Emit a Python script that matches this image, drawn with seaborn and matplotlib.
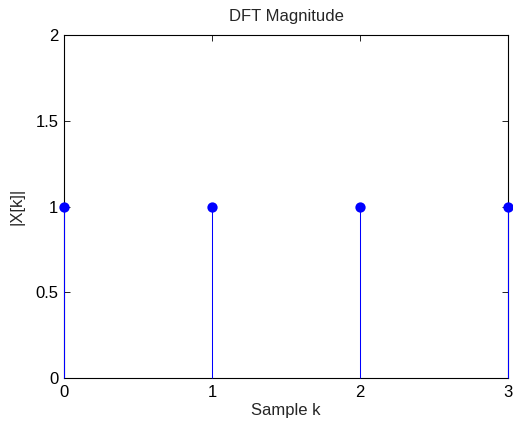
import matplotlib
matplotlib.use("Agg")
import matplotlib.pyplot as plt
import seaborn as sns
import pandas as pd

# DFT magnitude of a 4-point unit impulse
k = [0, 1, 2, 3]
magnitude = [1, 1, 1, 1]
x_ticks = [0, 1, 2, 3]
y_ticks = [0, 0.5, 1, 1.5, 2]

sns.set_style("ticks")
plt.rcParams["font.family"] = ["Liberation Sans", "DejaVu Sans"]

df = pd.DataFrame({"k": k, "mag": magnitude})

fig = plt.figure(figsize=(5.13, 4.26), dpi=100)
ax = fig.add_axes([64 / 513, 1 - 378 / 426, 444 / 513, 343 / 426])

ax.vlines(df["k"], 0, df["mag"], color="#0000ff", linewidth=0.75,
          zorder=4, clip_on=False)
sns.scatterplot(data=df, x="k", y="mag", ax=ax, color="#0000ff", s=55,
                edgecolor="#0000ff", linewidth=0, zorder=5, clip_on=False)

ax.set_xlim(0, 3)
ax.set_ylim(0, 2)
ax.set_xticks(x_ticks)
ax.set_xticklabels([str(v) for v in x_ticks])
ax.set_yticks(y_ticks)
ax.set_yticklabels(["0", "0.5", "1", "1.5", "2"])

for side in ["top", "right", "left", "bottom"]:
    ax.spines[side].set_visible(True)
    ax.spines[side].set_linewidth(0.8)
    ax.spines[side].set_color("black")
    ax.spines[side].set_zorder(3)

ax.tick_params(direction="in", length=4, width=0.6, top=True, right=True,
               labelsize=12, colors="black")
ax.tick_params(axis="x", pad=5)
ax.tick_params(axis="y", pad=4)

ax.set_title("DFT Magnitude", fontsize=12, pad=10)
ax.set_xlabel("Sample k", fontsize=12, labelpad=2)
ax.set_ylabel("|X[k]|", fontsize=12, labelpad=8)

fig.savefig("out.png", dpi=100, facecolor="white")
